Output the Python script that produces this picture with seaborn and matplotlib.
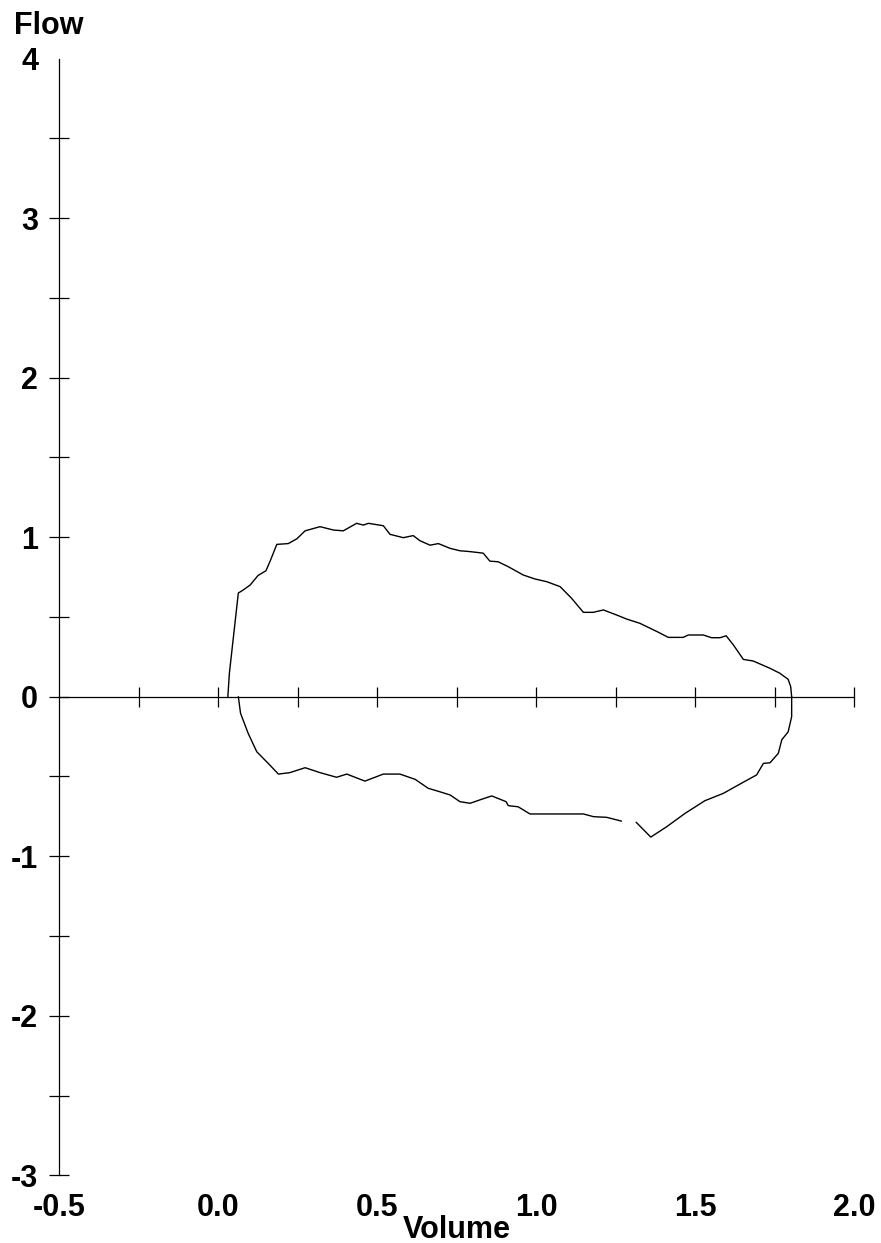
import matplotlib
matplotlib.use("Agg")
import matplotlib.pyplot as plt
import seaborn as sns
import numpy as np
import pandas as pd

# ---- data (Volume, Flow) ----
upper_volume = [0.030, 0.035, 0.063, 0.079, 0.100, 0.125, 0.150, 0.163, 0.184, 0.220,
                0.247, 0.273, 0.320, 0.362, 0.393, 0.435, 0.456, 0.472, 0.519, 0.540,
                0.582, 0.613, 0.634, 0.666, 0.692, 0.729, 0.760, 0.790, 0.833, 0.854,
                0.880, 0.912, 0.959, 0.996, 1.033, 1.075, 1.111, 1.148, 1.179, 1.211,
                1.253, 1.284, 1.326, 1.384, 1.415, 1.462, 1.478, 1.525, 1.551, 1.578,
                1.597, 1.620, 1.651, 1.682, 1.735, 1.766, 1.792, 1.800, 1.803]
upper_flow = [0.000, 0.150, 0.650, 0.670, 0.700, 0.760, 0.790, 0.850, 0.955, 0.960,
              0.990, 1.040, 1.066, 1.045, 1.040, 1.087, 1.076, 1.087, 1.072, 1.018,
              0.997, 1.010, 0.978, 0.950, 0.960, 0.930, 0.915, 0.910, 0.900, 0.850,
              0.846, 0.815, 0.763, 0.738, 0.721, 0.690, 0.617, 0.529, 0.529, 0.544,
              0.512, 0.487, 0.460, 0.404, 0.372, 0.372, 0.387, 0.387, 0.370, 0.370,
              0.382, 0.324, 0.234, 0.224, 0.178, 0.147, 0.109, 0.063, 0.000]

lower_volume_a = [0.063, 0.070, 0.094, 0.121, 0.157, 0.189, 0.225, 0.273, 0.320, 0.372,
                  0.404, 0.461, 0.519, 0.571, 0.619, 0.660, 0.697, 0.729, 0.760, 0.792,
                  0.828, 0.860, 0.905, 0.912, 0.943, 0.980, 1.148, 1.180, 1.221, 1.268]
lower_flow_a = [0.000, -0.104, -0.230, -0.345, -0.418, -0.485, -0.476, -0.445, -0.476, -0.505,
                -0.485, -0.529, -0.485, -0.485, -0.518, -0.574, -0.596, -0.616, -0.658, -0.668,
                -0.643, -0.622, -0.658, -0.683, -0.690, -0.735, -0.735, -0.752, -0.756, -0.780]

lower_volume_b = [1.314, 1.360, 1.410, 1.468, 1.530, 1.588, 1.641, 1.693, 1.714, 1.735,
                  1.761, 1.772, 1.792, 1.803, 1.803]
lower_flow_b = [-0.787, -0.880, -0.815, -0.731, -0.652, -0.606, -0.547, -0.490, -0.418, -0.414,
                -0.355, -0.270, -0.220, -0.125, 0.000]

x_tick_labels = ["-0.5", "0.0", "0.5", "1.0", "1.5", "2.0"]
x_label_values = [-0.5, 0.0, 0.5, 1.0, 1.5, 2.0]
x_tick_marks = [-0.25, 0.0, 0.25, 0.5, 0.75, 1.0, 1.25, 1.5, 1.75, 2.0]
y_tick_values = [-3, -2, -1, 0, 1, 2, 3, 4]
y_minor_values = [-2.5, -1.5, -0.5, 0.5, 1.5, 2.5, 3.5]

df = pd.concat([
    pd.DataFrame({"Volume": upper_volume, "Flow": upper_flow, "seg": "upper"}),
    pd.DataFrame({"Volume": lower_volume_a, "Flow": lower_flow_a, "seg": "lower_a"}),
    pd.DataFrame({"Volume": lower_volume_b, "Flow": lower_flow_b, "seg": "lower_b"}),
], ignore_index=True)

sns.set_theme(style="white")
plt.rcParams["font.family"] = ["Liberation Sans", "DejaVu Sans"]
plt.rcParams["text.color"] = "black"
plt.rcParams["axes.labelcolor"] = "black"
plt.rcParams["xtick.color"] = "black"
plt.rcParams["ytick.color"] = "black"

FS = 22
fig = plt.figure(figsize=(8.81, 12.43), dpi=100)
ax = fig.add_axes([0.0673, 0.0545, 0.9024, 0.8983])

sns.lineplot(data=df, x="Volume", y="Flow", units="seg", estimator=None, sort=False,
             color="black", linewidth=1.0, ax=ax)

ax.set_xlim(-0.5, 2.0)
ax.set_ylim(-3, 4)
ax.set_xlabel("")
ax.set_ylabel("")

for s in ["top", "right"]:
    ax.spines[s].set_visible(False)
ax.spines["bottom"].set_position(("data", 0))
ax.spines["bottom"].set_color("black")
ax.spines["bottom"].set_linewidth(0.9)
ax.spines["left"].set_color("black")
ax.spines["left"].set_linewidth(0.9)

ax.set_xticks(x_tick_marks)
ax.tick_params(axis="x", which="both", direction="inout", length=14.4, width=0.9,
               color="black", labelbottom=False, bottom=True)

ax.set_yticks(y_tick_values)
ax.set_yticks(y_minor_values, minor=True)
ax.set_yticklabels([str(v) for v in y_tick_values], fontsize=FS, fontweight="bold",
                   color="black")
ax.tick_params(axis="y", which="both", direction="inout", length=14.4, width=0.9,
               color="black", left=True, pad=8)
ax.yaxis.get_major_ticks()[-1].tick1line.set_visible(False)

sec = ax.secondary_xaxis(0)
sec.spines["bottom"].set_visible(False)
sec.set_xticks(x_label_values)
sec.set_xticklabels(x_tick_labels, fontsize=FS, fontweight="bold", color="black")
sec.tick_params(axis="x", length=0, pad=13)
sec.set_xlabel("Volume", fontsize=FS, fontweight="bold", labelpad=-6, color="black")

fig.text(14 / 881, 1 - 33.5 / 1243, "Flow", ha="left", va="baseline",
         fontsize=FS, fontweight="bold", color="black")

fig.savefig("out.png", dpi=100, facecolor="white")
